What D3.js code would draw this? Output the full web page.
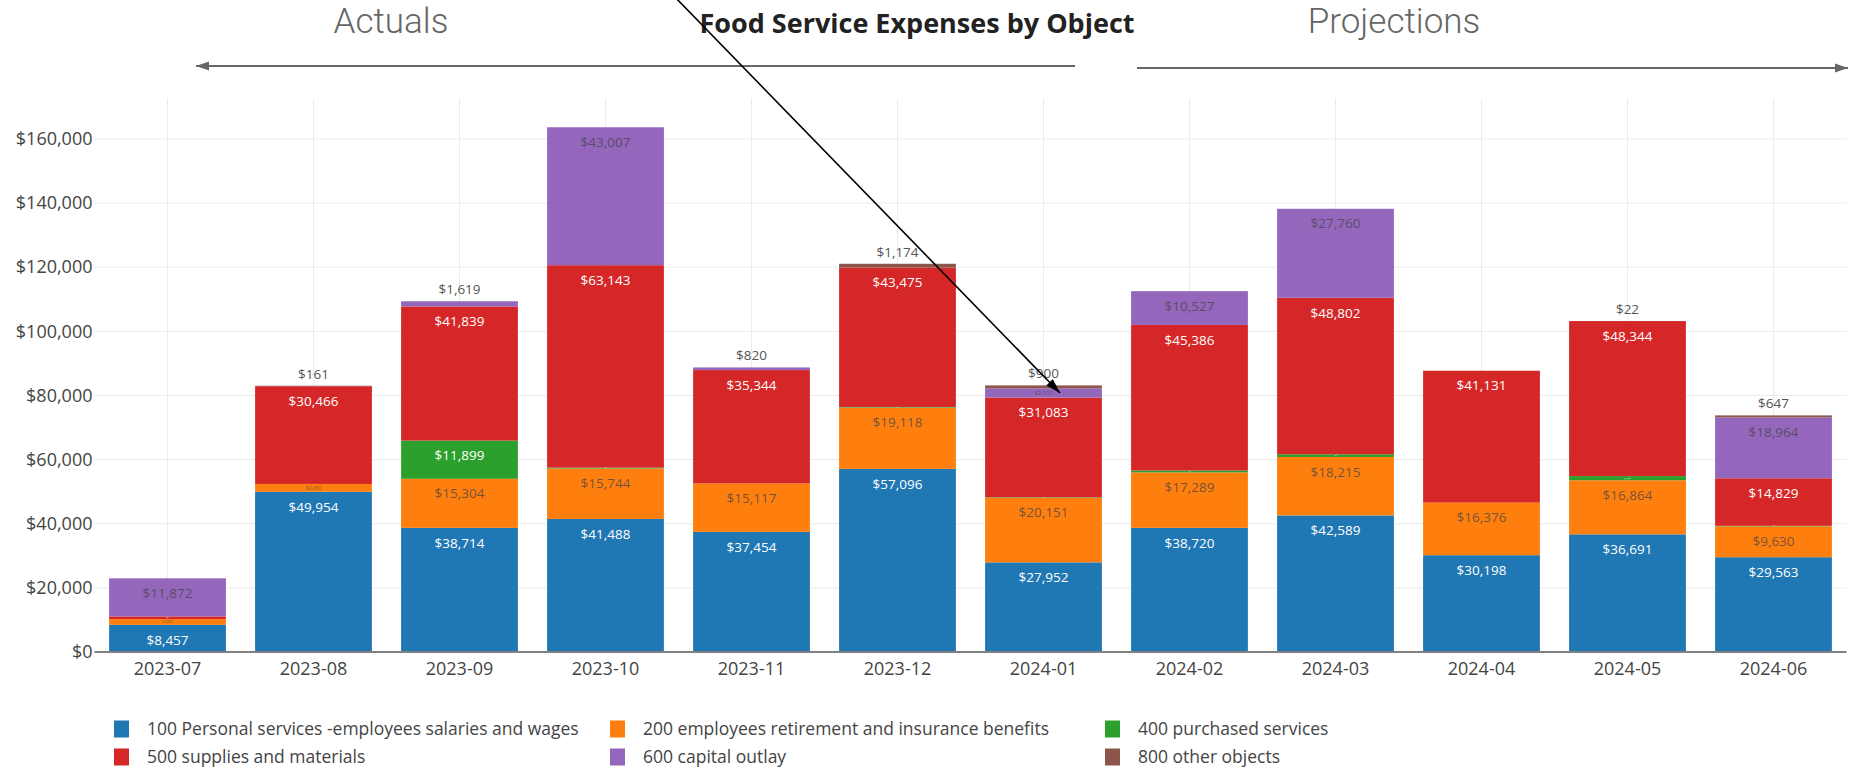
<!DOCTYPE html>
<html>
<head>
<meta charset="utf-8">
<script src="https://cdn.jsdelivr.net/npm/d3@7"></script>
<style>
  body { margin: 0; background: #fff; }
  svg { display: block; font-family: "Open Sans", sans-serif; }
</style>
</head>
<body>
<script>
// months on the x axis
var months = ["2023-07", "2023-08", "2023-09", "2023-10", "2023-11", "2023-12",
              "2024-01", "2024-02", "2024-03", "2024-04", "2024-05", "2024-06"];

// one array per expense object (bottom of the stack first)
var personal   = [8457, 49954, 38714, 41488, 37454, 57096, 27952, 38720, 42589, 30198, 36691, 29563];
var retirement = [1800, 2450, 15304, 15744, 15117, 19118, 20151, 17289, 18215, 16376, 16864, 9630];
var purchased  = [0, 0, 11899, 250, 0, 200, 150, 600, 850, 0, 1300, 150];
var supplies   = [850, 30466, 41839, 63143, 35344, 43475, 31083, 45386, 48802, 41131, 48344, 14829];
var capital    = [11872, 0, 1619, 43007, 820, 0, 2900, 10527, 27760, 0, 0, 18964];
var other      = [0, 161, 0, 0, 0, 1174, 900, 0, 0, 0, 22, 647];

var seriesNames = ["100 Personal services -employees salaries and wages",
                   "200 employees retirement and insurance benefits",
                   "400 purchased services",
                   "500 supplies and materials",
                   "600 capital outlay",
                   "800 other objects"];
var seriesValues = [personal, retirement, purchased, supplies, capital, other];
var seriesColors = ["#1f77b4", "#ff7f0e", "#2ca02c", "#d62728", "#9467bd", "#8c564b"];
var darkText = [false, true, false, false, true, true]; // label colour on the bar

var yTicks = [0, 20000, 40000, 60000, 80000, 100000, 120000, 140000, 160000];

var W = 1849, H = 768;
var plot = {left: 94.5, right: 1846.5, top: 98.5, bottom: 652};

var svg = d3.select("body").append("svg")
    .attr("width", W)
    .attr("height", H);

// build rows for d3.stack
var keys = seriesNames;
var table = months.map(function(m, i) {
  var row = {month: m};
  keys.forEach(function(k, j) { row[k] = seriesValues[j][i]; });
  return row;
});
var stacked = d3.stack().keys(keys)(table);

var x = d3.scaleBand()
    .domain(months)
    .range([plot.left, plot.right])
    .paddingInner(0.2)
    .paddingOuter(0.1);

var y = d3.scaleLinear()
    .domain([0, 172600])
    .range([plot.bottom, plot.top]);

var fmt = d3.format("$,.0f");

// gridlines
svg.append("g")
  .selectAll("line")
  .data(yTicks)
  .enter().append("line")
    .attr("x1", plot.left).attr("x2", plot.right)
    .attr("y1", function(d) { return y(d); })
    .attr("y2", function(d) { return y(d); })
    .attr("stroke", "#ebebeb")
    .attr("stroke-width", 1);

svg.append("g")
  .selectAll("line")
  .data(months)
  .enter().append("line")
    .attr("x1", function(d) { return x(d) + x.bandwidth() / 2; })
    .attr("x2", function(d) { return x(d) + x.bandwidth() / 2; })
    .attr("y1", plot.top).attr("y2", plot.bottom)
    .attr("stroke", "#ebebeb")
    .attr("stroke-width", 1);

// bars
var layers = svg.append("g").selectAll("g")
  .data(stacked)
  .enter().append("g")
    .attr("fill", function(d, i) { return seriesColors[i]; });

layers.selectAll("rect")
  .data(function(d) { return d; })
  .enter().append("rect")
    .attr("x", function(d) { return x(d.data.month); })
    .attr("width", x.bandwidth())
    .attr("y", function(d) { return y(d[1]); })
    .attr("height", function(d) { return y(d[0]) - y(d[1]); });

// which series is the top one for each month
var topIndex = months.map(function(m, i) {
  var top = 0;
  seriesValues.forEach(function(v, j) { if (v[i] > 0) top = j; });
  return top;
});

// bar labels
var labels = svg.append("g");
stacked.forEach(function(layer, j) {
  layer.forEach(function(d, i) {
    var v = seriesValues[j][i];
    if (!(v > 0)) return;
    var cx = x(d.data.month) + x.bandwidth() / 2;
    var top = y(d[1]), h = y(d[0]) - y(d[1]);
    var t = labels.append("text")
        .attr("x", cx)
        .attr("text-anchor", "middle")
        .text(fmt(v));
    if (h >= 20) {
      t.attr("y", top + 15).attr("dy", "0.35em")
        .style("font-size", "13.5px");
    } else if (topIndex[i] === j) {
      t.attr("y", top - 7)
        .style("font-size", "13.5px")
        .attr("fill", "#555");
      return;
    } else {
      t.attr("y", top + h / 2).attr("dy", "0.35em")
        .style("font-size", Math.max(0.8, (h - 1.5) * 0.75) + "px");
    }
    if (darkText[j]) t.attr("fill", "#444").attr("fill-opacity", 0.75);
    else t.attr("fill", "#fff");
  });
});

// zero line
svg.append("line")
    .attr("x1", plot.left).attr("x2", plot.right)
    .attr("y1", y(0)).attr("y2", y(0))
    .attr("stroke", "#808080")
    .attr("stroke-width", 2);

// y axis labels
svg.append("g")
    .attr("transform", "translate(" + (plot.left - 2) + ",0)")
    .call(d3.axisLeft(y).tickValues(yTicks).tickFormat(fmt).tickSize(0).tickPadding(0))
    .call(function(g) { g.select(".domain").remove(); })
    .selectAll("text")
    .style("font-family", "'Open Sans', sans-serif")
    .style("font-size", "18px")
    .attr("fill", "#444");

// x axis labels
svg.append("g")
    .attr("transform", "translate(0," + plot.bottom + ")")
    .call(d3.axisBottom(x).tickSize(0).tickPadding(10))
    .call(function(g) { g.select(".domain").remove(); })
    .selectAll("text")
    .style("font-family", "'Open Sans', sans-serif")
    .style("font-size", "18px")
    .attr("fill", "#444");

// legend
var legendX = [114, 610, 1105];
var legendY = [729, 757];
var legend = svg.append("g").selectAll("g")
  .data(seriesNames)
  .enter().append("g")
    .attr("transform", function(d, i) {
      return "translate(" + legendX[i % 3] + "," + legendY[Math.floor(i / 3)] + ")";
    });
legend.append("rect")
    .attr("x", 0).attr("y", -8.5)
    .attr("width", 15).attr("height", 17)
    .attr("fill", function(d, i) { return seriesColors[i]; });
legend.append("text")
    .attr("x", 33).attr("y", 0).attr("dy", "0.35em")
    .style("font-size", "17.5px")
    .attr("fill", "#444")
    .text(function(d) { return d; });

// title and period captions
svg.append("text")
    .attr("x", 917).attr("y", 33)
    .attr("text-anchor", "middle")
    .style("font-size", "27px")
    .style("font-weight", "bold")
    .attr("fill", "#222")
    .text("Food Service Expenses by Object");

svg.append("text")
    .attr("x", 391).attr("y", 33)
    .attr("text-anchor", "middle")
    .style("font-family", "Roboto, sans-serif")
    .style("font-weight", 300)
    .style("font-size", "35px")
    .attr("fill", "#666")
    .text("Actuals");

svg.append("text")
    .attr("x", 1394).attr("y", 33)
    .attr("text-anchor", "middle")
    .style("font-family", "Roboto, sans-serif")
    .style("font-weight", 300)
    .style("font-size", "35px")
    .attr("fill", "#666")
    .text("Projections");

// arrow heads
var defs = svg.append("defs");
defs.append("marker")
    .attr("id", "grayhead")
    .attr("markerUnits", "userSpaceOnUse")
    .attr("viewBox", "0 -6 14 12")
    .attr("refX", 13).attr("refY", 0)
    .attr("markerWidth", 14).attr("markerHeight", 12)
    .attr("orient", "auto")
  .append("path")
    .attr("d", "M0,-4.5L13,0L0,4.5Z")
    .attr("fill", "#666");
defs.append("marker")
    .attr("id", "blackhead")
    .attr("markerUnits", "userSpaceOnUse")
    .attr("viewBox", "0 -6 16 12")
    .attr("refX", 15).attr("refY", 0)
    .attr("markerWidth", 16).attr("markerHeight", 12)
    .attr("orient", "auto")
  .append("path")
    .attr("d", "M0,-4.5L15,0L0,4.5Z")
    .attr("fill", "#000");

svg.append("line")
    .attr("x1", 1075).attr("y1", 66)
    .attr("x2", 196).attr("y2", 66)
    .attr("stroke", "#666").attr("stroke-width", 2)
    .attr("marker-end", "url(#grayhead)");

svg.append("line")
    .attr("x1", 1137).attr("y1", 68)
    .attr("x2", 1848).attr("y2", 68)
    .attr("stroke", "#666").attr("stroke-width", 2)
    .attr("marker-end", "url(#grayhead)");

// pointer to the January bar
svg.append("line")
    .attr("x1", 672).attr("y1", -6)
    .attr("x2", 1060).attr("y2", 393)
    .attr("stroke", "#000").attr("stroke-width", 1.6)
    .attr("marker-end", "url(#blackhead)");
</script>
</body>
</html>
